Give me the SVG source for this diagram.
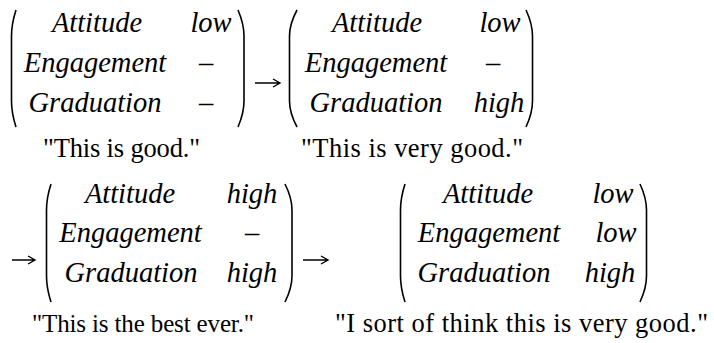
<svg xmlns="http://www.w3.org/2000/svg" width="714" height="343" viewBox="0 0 714 343">
<style>
.m{font-family:'Liberation Serif','Times New Roman',serif;font-style:italic;font-size:28.5px;fill:#000;text-anchor:middle}
.d{font-family:'Liberation Serif','Times New Roman',serif;font-size:28.5px;fill:#000;text-anchor:middle}
.q{font-family:'Liberation Serif','Times New Roman',serif;font-size:26.5px;fill:#000;text-anchor:middle}
.p{fill:none;stroke:#000;stroke-width:1.6}
.a{fill:none;stroke:#000;stroke-width:1.4}
</style>
<rect width="714" height="343" fill="#fff"/>
<g id="state1">
<path class="p" d="M16 10 Q11.5 24 11.5 36 L11.5 101 Q11.5 113 16 127"/>
<path class="p" d="M238 10 Q244 24 244 36 L244 101 Q244 113 238 127"/>
<text class="m" x="97" y="32">Attitude</text><text class="m" x="211" y="32">low</text>
<text class="m" x="95" y="72">Engagement</text><text class="d" x="206" y="72">–</text>
<text class="m" x="95" y="112">Graduation</text><text class="d" x="206" y="112">–</text>
<text class="q" x="121.5" y="156.5" textLength="157" lengthAdjust="spacing">"This is good."</text>
</g>
<g id="state2">
<path class="p" d="M297 10 Q289.5 24 289.5 36 L289.5 101 Q289.5 113 297 127"/>
<path class="p" d="M526 10 Q532.5 24 532.5 36 L532.5 101 Q532.5 113 526 127"/>
<text class="m" x="377" y="32">Attitude</text><text class="m" x="500" y="32">low</text>
<text class="m" x="376" y="72">Engagement</text><text class="d" x="493" y="72">–</text>
<text class="m" x="376" y="112">Graduation</text><text class="m" x="499" y="112">high</text>
<text class="q" x="412" y="156.5" textLength="222" lengthAdjust="spacing">"This is very good."</text>
</g>
<g id="state3">
<path class="p" d="M51 184 Q46.5 198 46.5 210 L46.5 276 Q46.5 288 51 302"/>
<path class="p" d="M285 184 Q292 198 292 210 L292 276 Q292 288 285 302"/>
<text class="m" x="130" y="203">Attitude</text><text class="m" x="252" y="203">high</text>
<text class="m" x="130.5" y="242">Engagement</text><text class="d" x="252" y="242">–</text>
<text class="m" x="131" y="282">Graduation</text><text class="m" x="252" y="282">high</text>
<text class="q" x="143" y="332" style="font-size:25px" textLength="222" lengthAdjust="spacing">"This is the best ever."</text>
</g>
<g id="state4">
<path class="p" d="M405 184 Q400.5 198 400.5 210 L400.5 276 Q400.5 288 405 302"/>
<path class="p" d="M640 184 Q646.5 198 646.5 210 L646.5 276 Q646.5 288 640 302"/>
<text class="m" x="488" y="203">Attitude</text><text class="m" x="613" y="203">low</text>
<text class="m" x="489" y="242">Engagement</text><text class="m" x="616" y="242">low</text>
<text class="m" x="484" y="282">Graduation</text><text class="m" x="610" y="282">high</text>
<text class="q" x="521.5" y="332" textLength="373" lengthAdjust="spacing">"I sort of think this is very good."</text>
</g>
<g id="connectors">
<path class="a" d="M255 83 H280 M273 79 L280 83 L273 87"/>
<path class="a" d="M12 260 H35 M28 256 L35 260 L28 264"/>
<path class="a" d="M303 260 H328 M321 256 L328 260 L321 264"/>
</g>
</svg>
